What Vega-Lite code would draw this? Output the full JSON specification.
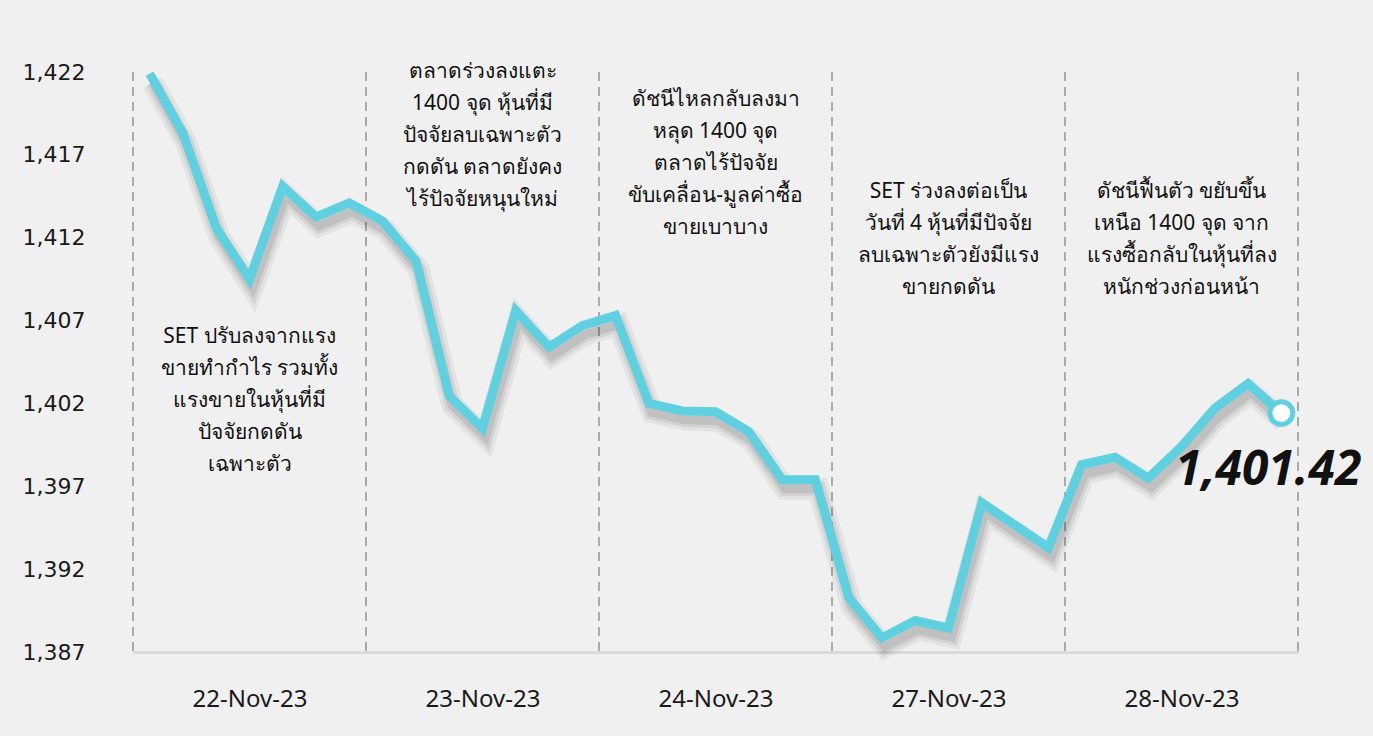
{
  "$schema": "https://vega.github.io/schema/vega-lite/v6.json",
  "width": 1165,
  "height": 580,
  "autosize": {"type": "none"},
  "padding": {"left": 133, "top": 72, "right": 75, "bottom": 84},
  "background": "#f0f0f0",
  "config": {"view": {"stroke": null}, "font": "Noto Sans"},
  "datasets": {
    "set": [
      {"i": 0, "v": 1421.9}, {"i": 1, "v": 1418.3}, {"i": 2, "v": 1412.6}, {"i": 3, "v": 1409.5},
      {"i": 4, "v": 1415.1}, {"i": 5, "v": 1413.25}, {"i": 6, "v": 1414.1},
      {"i": 7, "v": 1413.0}, {"i": 8, "v": 1410.6}, {"i": 9, "v": 1402.45}, {"i": 10, "v": 1400.5},
      {"i": 11, "v": 1407.6}, {"i": 12, "v": 1405.4}, {"i": 13, "v": 1406.7},
      {"i": 14, "v": 1407.3}, {"i": 15, "v": 1402.0}, {"i": 16, "v": 1401.55}, {"i": 17, "v": 1401.5},
      {"i": 18, "v": 1400.3}, {"i": 19, "v": 1397.4}, {"i": 20, "v": 1397.4},
      {"i": 21, "v": 1390.3}, {"i": 22, "v": 1387.85}, {"i": 23, "v": 1388.9}, {"i": 24, "v": 1388.45},
      {"i": 25, "v": 1396.0}, {"i": 26, "v": 1394.65}, {"i": 27, "v": 1393.3},
      {"i": 28, "v": 1398.3}, {"i": 29, "v": 1398.75}, {"i": 30, "v": 1397.5}, {"i": 31, "v": 1399.4},
      {"i": 32, "v": 1401.7}, {"i": 33, "v": 1403.2}, {"i": 34, "v": 1401.42}
    ],
    "bounds": [{"b": -0.5}, {"b": 6.5}, {"b": 13.5}, {"b": 20.5}, {"b": 27.5}, {"b": 34.5}],
    "notes": [
      {"c": 3, "top": 1406.67, "note": "SET ปรับลงจากแรง\nขายทำกำไร รวมทั้ง\nแรงขายในหุ้นที่มี\nปัจจัยกดดัน\nเฉพาะตัว"},
      {"c": 10, "top": 1422.66, "note": "ตลาดร่วงลงแตะ\n1400 จุด หุ้นที่มี\nปัจจัยลบเฉพาะตัว\nกดดัน ตลาดยังคง\nไร้ปัจจัยหนุนใหม่"},
      {"c": 17, "top": 1420.97, "note": "ดัชนีไหลกลับลงมา\nหลุด 1400 จุด\nตลาดไร้ปัจจัย\nขับเคลื่อน-มูลค่าซื้อ\nขายเบาบาง"},
      {"c": 24, "top": 1415.42, "note": "SET ร่วงลงต่อเป็น\nวันที่ 4 หุ้นที่มีปัจจัย\nลบเฉพาะตัวยังมีแรง\nขายกดดัน"},
      {"c": 31, "top": 1415.42, "note": "ดัชนีฟื้นตัว ขยับขึ้น\nเหนือ 1400 จุด จาก\nแรงซื้อกลับในหุ้นที่ลง\nหนักช่วงก่อนหน้า"}
    ]
  },
  "layer": [
    {
      "data": {"name": "bounds"},
      "mark": {"type": "rule", "stroke": "#9a9a9a", "strokeWidth": 1.6, "strokeDash": [9, 6]},
      "encoding": {
        "x": {"field": "b", "type": "quantitative", "scale": {"domain": [-0.5, 34.5], "nice": false, "zero": false},
          "axis": {"values": [3, 10, 17, 24, 31], "labelExpr": "datum.value == 3 ? '22-Nov-23' : datum.value == 10 ? '23-Nov-23' : datum.value == 17 ? '24-Nov-23' : datum.value == 24 ? '27-Nov-23' : '28-Nov-23'",
            "title": null, "grid": false, "ticks": false, "domain": true, "domainColor": "#d6d6d6", "domainWidth": 2.5,
            "labelFontSize": 24, "labelColor": "#1a1a1a", "labelPadding": 35, "labelFont": "Noto Sans"}}
      }
    },
    {
      "data": {"name": "set"},
      "mark": {"type": "line", "stroke": "#000000", "opacity": 0.05, "strokeWidth": 22, "xOffset": 3, "yOffset": 9},
      "encoding": {
        "x": {"field": "i", "type": "quantitative"},
        "y": {"field": "v", "type": "quantitative", "scale": {"domain": [1387, 1422], "nice": false, "zero": false},
          "axis": {"values": [1387, 1392, 1397, 1402, 1407, 1412, 1417, 1422], "format": ",d", "title": null,
            "grid": false, "ticks": false, "domain": false, "labelFontSize": 22, "labelColor": "#1a1a1a", "labelPadding": 48, "labelFont": "DejaVu Sans"}}
      }
    },
    {
      "data": {"name": "set"},
      "mark": {"type": "line", "stroke": "#000000", "opacity": 0.07, "strokeWidth": 15, "xOffset": 3, "yOffset": 9},
      "encoding": {"x": {"field": "i", "type": "quantitative"}, "y": {"field": "v", "type": "quantitative"}}
    },
    {
      "data": {"name": "set"},
      "mark": {"type": "line", "stroke": "#000000", "opacity": 0.09, "strokeWidth": 9, "xOffset": 3, "yOffset": 9},
      "encoding": {"x": {"field": "i", "type": "quantitative"}, "y": {"field": "v", "type": "quantitative"}}
    },
    {
      "data": {"name": "set"},
      "mark": {"type": "line", "stroke": "#5ed0df", "strokeWidth": 9, "strokeJoin": "miter"},
      "encoding": {"x": {"field": "i", "type": "quantitative"}, "y": {"field": "v", "type": "quantitative"}}
    },
    {
      "data": {"name": "set"},
      "transform": [{"filter": "datum.i == 34"}],
      "mark": {"type": "point", "filled": true, "fill": "#ffffff", "stroke": "#5ed0df", "strokeWidth": 5, "size": 520, "opacity": 1},
      "encoding": {"x": {"field": "i", "type": "quantitative"}, "y": {"field": "v", "type": "quantitative"}}
    },
    {
      "data": {"name": "set"},
      "transform": [{"filter": "datum.i == 34"}],
      "mark": {"type": "text", "fontSize": 48, "fontWeight": "bold", "fontStyle": "italic", "color": "#111111", "align": "center", "baseline": "middle", "dx": -13, "dy": 58, "font": "Noto Sans"},
      "encoding": {"x": {"field": "i", "type": "quantitative"}, "y": {"field": "v", "type": "quantitative"}, "text": {"field": "v", "type": "quantitative", "format": ",.2f"}}
    },
    {
      "data": {"name": "notes"},
      "mark": {"type": "text", "fontSize": 21, "color": "#111111", "align": "center", "baseline": "top", "lineBreak": "\n", "lineHeight": 32, "font": "Noto Sans"},
      "encoding": {"x": {"field": "c", "type": "quantitative"}, "y": {"field": "top", "type": "quantitative"}, "text": {"field": "note"}}
    }
  ]
}
